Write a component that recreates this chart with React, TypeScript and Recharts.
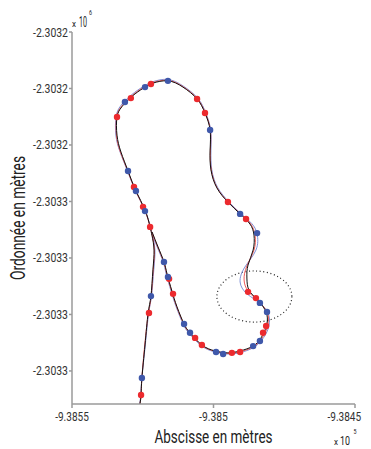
import {
  ComposedChart,
  Line,
  Scatter,
  XAxis,
  YAxis,
  ReferenceArea,
  Label,
} from "recharts";

type Pt = [number, number]; // [abscisse, ordonnée] en mètres

const xTicks = [-938550, -938500, -938450];
const xTickLabels = ["-9.3855", "-9.385", "-9.3845"];
const yTicks = [-2303190, -2303210, -2303230, -2303250, -2303270, -2303290, -2303310];
const yTickLabels = ["-2.3032", "-2.3032", "-2.3032", "-2.3033", "-2.3033", "-2.3033", "-2.3033"];

// trajectoire de référence (noir)
const blackTrack: Pt[] = [
  [-938526.0, -2303321.7], [-938525.6, -2303318.5], [-938525.3, -2303312.5],
  [-938524.2, -2303300.8], [-938523.1, -2303289.5], [-938522.1, -2303283.5],
  [-938521.4, -2303274.2], [-938521.0, -2303267.2], [-938521.7, -2303262.2],
  [-938522.4, -2303259.0], [-938524.2, -2303253.0], [-938527.4, -2303246.3],
  [-938530.2, -2303239.2], [-938532.7, -2303232.5], [-938534.1, -2303226.5],
  [-938534.1, -2303220.1], [-938532.7, -2303216.9], [-938530.9, -2303214.8],
  [-938527.7, -2303211.9], [-938524.2, -2303209.5], [-938521.4, -2303208.1],
  [-938516.1, -2303207.3], [-938510.8, -2303209.5], [-938505.8, -2303213.7],
  [-938503.0, -2303218.7], [-938501.2, -2303224.7], [-938501.2, -2303231.8],
  [-938500.9, -2303238.8], [-938498.8, -2303245.2], [-938494.9, -2303250.2],
  [-938490.6, -2303254.4], [-938487.1, -2303258.0], [-938485.7, -2303261.9],
  [-938486.0, -2303267.2], [-938487.8, -2303272.5], [-938488.2, -2303277.1],
  [-938487.5, -2303281.3], [-938485.0, -2303284.2], [-938482.9, -2303286.6],
  [-938481.1, -2303290.2], [-938481.4, -2303294.4], [-938483.2, -2303298.3],
  [-938486.0, -2303301.2], [-938490.6, -2303302.9], [-938494.9, -2303303.6],
  [-938499.5, -2303302.9], [-938504.1, -2303300.8], [-938508.3, -2303296.5],
  [-938510.4, -2303293.4], [-938512.9, -2303287.3], [-938514.7, -2303281.7],
  [-938516.4, -2303275.7], [-938517.5, -2303271.4], [-938519.6, -2303266.1],
  [-938521.7, -2303260.8],
];

// trajectoire estimée 1 (rouge)
const redTrack: Pt[] = [
  [-938526.0, -2303321.7], [-938525.6, -2303318.5], [-938525.3, -2303312.5],
  [-938524.3, -2303300.8], [-938523.0, -2303289.5], [-938522.0, -2303283.5],
  [-938521.3, -2303274.2], [-938520.9, -2303267.2], [-938521.6, -2303262.2],
  [-938522.4, -2303259.0], [-938524.3, -2303253.0], [-938527.5, -2303246.3],
  [-938530.3, -2303239.2], [-938532.9, -2303232.5], [-938534.3, -2303226.5],
  [-938534.2, -2303220.0], [-938532.8, -2303216.7], [-938531.0, -2303214.6],
  [-938527.8, -2303211.7], [-938524.2, -2303209.3], [-938521.4, -2303207.9],
  [-938516.1, -2303207.1], [-938510.7, -2303209.4], [-938505.7, -2303213.6],
  [-938502.9, -2303218.7], [-938501.1, -2303224.7], [-938501.1, -2303231.8],
  [-938500.8, -2303238.8], [-938498.7, -2303245.2], [-938494.8, -2303250.2],
  [-938490.4, -2303254.4], [-938486.8, -2303258.0], [-938485.3, -2303262.2],
  [-938485.7, -2303267.2], [-938488.2, -2303272.8], [-938489.2, -2303277.8],
  [-938487.8, -2303281.7], [-938485.0, -2303284.4], [-938482.7, -2303286.8],
  [-938480.7, -2303290.2], [-938481.1, -2303294.8], [-938483.0, -2303298.6],
  [-938486.0, -2303301.5], [-938490.6, -2303303.2], [-938494.9, -2303303.8],
  [-938499.6, -2303303.0], [-938504.2, -2303300.9], [-938508.4, -2303296.6],
  [-938510.5, -2303293.4], [-938513.0, -2303287.3], [-938514.8, -2303281.7],
  [-938516.5, -2303275.7], [-938517.6, -2303271.4], [-938519.7, -2303266.1],
  [-938521.8, -2303260.8],
];

// trajectoire estimée 2 (bleu)
const blueTrack: Pt[] = [
  [-938526.1, -2303321.7], [-938525.7, -2303318.5], [-938525.3, -2303312.5],
  [-938524.1, -2303300.8], [-938522.9, -2303289.5], [-938521.9, -2303283.5],
  [-938521.1, -2303274.2], [-938520.7, -2303267.2], [-938521.5, -2303262.2],
  [-938522.3, -2303259.0], [-938524.2, -2303253.2], [-938527.5, -2303246.4],
  [-938530.4, -2303239.2], [-938533.0, -2303232.5], [-938534.5, -2303226.5],
  [-938534.4, -2303219.8], [-938533.0, -2303216.4], [-938531.2, -2303214.3],
  [-938527.9, -2303211.4], [-938524.3, -2303209.0], [-938521.4, -2303207.6],
  [-938516.1, -2303206.8], [-938510.6, -2303209.2], [-938505.5, -2303213.5],
  [-938502.7, -2303218.7], [-938501.0, -2303224.7], [-938500.9, -2303231.8],
  [-938500.6, -2303238.8], [-938498.5, -2303245.1], [-938494.6, -2303250.1],
  [-938490.3, -2303254.3], [-938486.5, -2303257.8], [-938484.6, -2303261.5],
  [-938485.0, -2303267.2], [-938488.9, -2303273.2], [-938490.6, -2303278.5],
  [-938488.5, -2303282.4], [-938485.2, -2303284.8], [-938482.5, -2303287.0],
  [-938480.4, -2303290.5], [-938480.7, -2303295.1], [-938482.9, -2303299.0],
  [-938486.0, -2303301.8], [-938490.6, -2303303.5], [-938494.9, -2303304.0],
  [-938499.7, -2303303.2], [-938504.4, -2303301.0], [-938508.6, -2303296.7],
  [-938510.7, -2303293.5], [-938513.2, -2303287.3], [-938515.0, -2303281.7],
  [-938516.7, -2303275.7], [-938517.8, -2303271.4], [-938519.9, -2303266.1],
  [-938522.0, -2303260.8],
];

const redDots: Pt[] = [
  [-938525.6, -2303318.5], [-938522.8, -2303289.5], [-938522.4, -2303259.0],
  [-938524.9, -2303251.9], [-938528.1, -2303244.9], [-938534.1, -2303220.1],
  [-938529.2, -2303213.4], [-938522.1, -2303208.4], [-938505.8, -2303213.7],
  [-938503.0, -2303218.7], [-938494.9, -2303250.2], [-938488.5, -2303256.2],
  [-938487.8, -2303282.0], [-938485.0, -2303284.2], [-938481.4, -2303294.1],
  [-938482.5, -2303296.5], [-938490.6, -2303303.3], [-938493.5, -2303303.6],
  [-938504.1, -2303300.8], [-938506.5, -2303298.3], [-938514.3, -2303282.7],
  [-938515.7, -2303277.4],
];

const blueDots: Pt[] = [
  [-938525.3, -2303312.5], [-938522.1, -2303283.5], [-938524.2, -2303253.4],
  [-938527.4, -2303246.3], [-938530.2, -2303239.2], [-938531.3, -2303214.8],
  [-938524.2, -2303209.5], [-938516.1, -2303207.3], [-938501.2, -2303224.7],
  [-938490.6, -2303254.4], [-938484.6, -2303261.2], [-938483.6, -2303285.9],
  [-938481.1, -2303289.1], [-938483.6, -2303299.4], [-938486.0, -2303301.2],
  [-938496.6, -2303304.0], [-938499.1, -2303303.3], [-938508.3, -2303296.5],
  [-938510.4, -2303293.4], [-938516.1, -2303276.7], [-938517.5, -2303271.4],
];

// zone entourée (ellipse pointillée)
const zoneX = [-938498.8, -938472.3];
const zoneY = [-2303292.7, -2303274.6];

const toRows = (pts: Pt[]) => pts.map(([x, y]) => ({ x, y }));

const FONT = "Roboto, 'DejaVu Sans', sans-serif";
const AXIS = "#9a9a9a";
const RED = "#ec2a2e";
const BLUE = "#3f58aa";

// texte étroit (police condensée simulée)
const Narrow = ({ w, ...rest }: any) => (
  <text fontFamily={FONT} lengthAdjust="spacingAndGlyphs" textLength={w} {...rest} />
);

const dot = (color: string) => (props: any) =>
  <circle cx={props.cx} cy={props.cy} r={3.2} fill={color} />;

const ellipse = (props: any) => {
  const { x, y, width, height } = props;
  return (
    <ellipse
      cx={x + width / 2}
      cy={y + height / 2}
      rx={width / 2}
      ry={height / 2}
      fill="none"
      stroke="#222"
      strokeWidth={1.2}
      strokeDasharray="1 2.6"
    />
  );
};

const XTick = (p: any) => {
  const label = xTickLabels[xTicks.indexOf(p.payload.value)];
  return (
    <Narrow x={p.x} y={p.y + 11} w={label.length * 4.8} fontSize={13} fill="#333" textAnchor="middle">
      {label}
    </Narrow>
  );
};

const YTick = (p: any) => {
  const label = yTickLabels[yTicks.indexOf(p.payload.value)];
  return (
    <Narrow x={p.x} y={p.y + 4.5} w={35} fontSize={13} fill="#333" textAnchor="end">
      {label}
    </Narrow>
  );
};

export default function App() {
  return (
    <div style={{ position: "absolute", left: 0, top: 0, width: 371, height: 449, background: "#fff" }}>
      <ComposedChart width={371} height={449} margin={{ top: 32, right: 16, bottom: 0, left: 0 }}>
        <XAxis
          type="number"
          dataKey="x"
          domain={[-938550, -938450]}
          ticks={xTicks}
          allowDataOverflow
          height={45}
          stroke={AXIS}
          strokeWidth={1.5}
          tickSize={4}
          tickMargin={2}
          tick={<XTick />}
        >
          <Label
            content={({ viewBox }: any) => (
              <g fill="#222">
                <Narrow x={viewBox.x + viewBox.width / 2} y={viewBox.y + 39} w={118} fontSize={19} textAnchor="middle">
                  Abscisse en mètres
                </Narrow>
                <Narrow x={viewBox.x + viewBox.width - 21} y={viewBox.y + 41} w={4} fontSize={9}>x</Narrow>
                <Narrow x={viewBox.x + viewBox.width - 15} y={viewBox.y + 41} w={10} fontSize={13}>10</Narrow>
                <Narrow x={viewBox.x + viewBox.width - 1.5} y={viewBox.y + 30} w={3} fontSize={7}>5</Narrow>
              </g>
            )}
          />
        </XAxis>
        <YAxis
          type="number"
          dataKey="y"
          domain={[-2303321.7, -2303190]}
          ticks={yTicks}
          allowDataOverflow
          width={72}
          stroke={AXIS}
          strokeWidth={1.5}
          tickSize={3}
          tickMargin={1}
          tick={<YTick />}
        >
          <Label
            content={({ viewBox }: any) => {
              const cx = 18;
              const cy = viewBox.y + viewBox.height / 2;
              return (
                <g fill="#222">
                  <Narrow
                    x={cx}
                    y={cy + 7}
                    w={124}
                    fontSize={20}
                    textAnchor="middle"
                    transform={`rotate(-90, ${cx}, ${cy})`}
                  >
                    Ordonnée en mètres
                  </Narrow>
                  <Narrow x={viewBox.x + viewBox.width} y={viewBox.y - 5} w={4} fontSize={9}>x</Narrow>
                  <Narrow x={viewBox.x + viewBox.width + 7} y={viewBox.y - 5} w={8} fontSize={15}>10</Narrow>
                  <Narrow x={viewBox.x + viewBox.width + 17} y={viewBox.y - 17} w={3} fontSize={7}>6</Narrow>
                </g>
              );
            }}
          />
        </YAxis>

        <ReferenceArea x1={zoneX[0]} x2={zoneX[1]} y1={zoneY[0]} y2={zoneY[1]} shape={ellipse} />

        <Line data={toRows(blueTrack)} dataKey="y" type="natural" stroke="#7f90d6" strokeWidth={1} dot={false} isAnimationActive={false} />
        <Line data={toRows(redTrack)} dataKey="y" type="natural" stroke="#ef5a5a" strokeWidth={1} dot={false} isAnimationActive={false} />
        <Line data={toRows(blackTrack)} dataKey="y" type="natural" stroke="#111" strokeWidth={1} dot={false} isAnimationActive={false} />

        <Scatter data={toRows(redDots)} dataKey="y" fill={RED} shape={dot(RED)} isAnimationActive={false} />
        <Scatter data={toRows(blueDots)} dataKey="y" fill={BLUE} shape={dot(BLUE)} isAnimationActive={false} />
      </ComposedChart>
    </div>
  );
}
